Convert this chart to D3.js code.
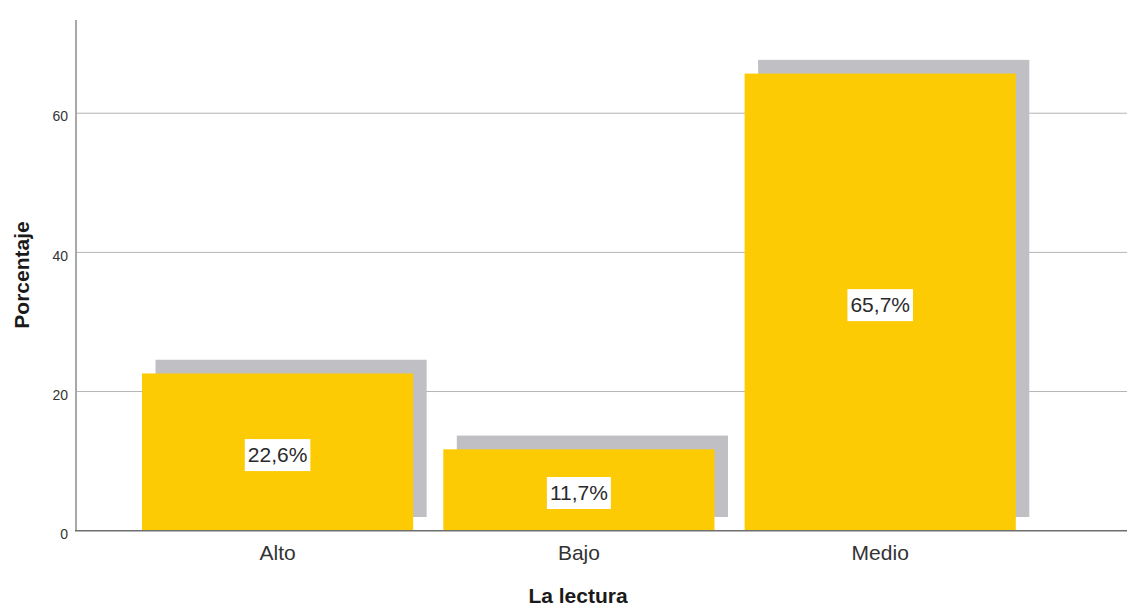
<!DOCTYPE html>
<html>
<head>
<meta charset="utf-8">
<script src="https://cdn.jsdelivr.net/npm/d3@7"></script>
<style>
  html, body { margin: 0; padding: 0; background: #fff; }
  svg { display: block; font-family: "Liberation Sans", Arial, sans-serif; }
</style>
</head>
<body>
<svg id="chart" width="1127" height="606"></svg>
<script>
const categories = ["Alto", "Bajo", "Medio"];
const values = [22.6, 11.7, 65.7];
const valueLabels = ["22,6%", "11,7%", "65,7%"];
const yTicks = [0, 20, 40, 60];
const xTitle = "La lectura";
const yTitle = "Porcentaje";

const svg = d3.select("#chart");
const W = 1127;

const y = d3.scaleLinear().domain([0, 73.4]).range([530.7, 20]);
const x = d3.scaleBand().domain(categories).range([142, 1015.8]).paddingInner(0.1).paddingOuter(0);

const axisX0 = 76;
const shadowDx = 13.5, shadowDy = 13.7;

// gridlines
svg.append("g").selectAll("line").data(yTicks.filter(d => d > 0)).join("line")
  .attr("x1", axisX0).attr("x2", W)
  .attr("y1", d => y(d)).attr("y2", d => y(d))
  .attr("stroke", "#b4b4b4").attr("stroke-width", 1);

const data = categories.map((c, i) => ({c, v: values[i], l: valueLabels[i]}));

// shadows
svg.append("g").selectAll("rect").data(data).join("rect")
  .attr("x", d => x(d.c) + shadowDx)
  .attr("y", d => y(d.v) - shadowDy)
  .attr("width", x.bandwidth())
  .attr("height", d => y(0) - y(d.v))
  .attr("fill", "#c0bfc3");

// bars
svg.append("g").selectAll("rect").data(data).join("rect")
  .attr("x", d => x(d.c))
  .attr("y", d => y(d.v))
  .attr("width", x.bandwidth())
  .attr("height", d => y(0) - y(d.v))
  .attr("fill", "#fccb03");

// value labels
const lg = svg.append("g").selectAll("g").data(data).join("g")
  .attr("transform", d => `translate(${x(d.c) + x.bandwidth() / 2},${(y(d.v) + y(0)) / 2 + 3})`);
lg.append("rect").attr("fill", "#fff");
lg.append("text")
  .attr("text-anchor", "middle").attr("dy", "0.35em")
  .attr("font-size", 21).attr("fill", "#2a2a2a")
  .text(d => d.l);
lg.each(function() {
  const g = d3.select(this);
  const bb = g.select("text").node().getBBox();
  g.select("rect").attr("x", bb.x - 3).attr("y", -16).attr("width", bb.width + 6).attr("height", 32);
});

// y axis
const yAxis = d3.axisLeft(y).tickValues(yTicks).tickSize(0).tickPadding(8).tickFormat(d3.format("d"));
const ya = svg.append("g").attr("transform", `translate(${axisX0},0)`).call(yAxis);
ya.select(".domain").remove();
ya.selectAll("text").attr("font-size", 14).attr("fill", "#333").attr("dy", "0.55em")
  .attr("font-family", "'Liberation Sans', Arial, sans-serif");
svg.append("line").attr("x1", axisX0).attr("x2", axisX0).attr("y1", 20).attr("y2", y(0))
  .attr("stroke", "#a8a8a8").attr("stroke-width", 2);

// x axis
const xAxis = d3.axisBottom(x).tickSize(0).tickPadding(14);
const xa = svg.append("g").attr("transform", `translate(0,${y(0)})`).call(xAxis);
xa.select(".domain").remove();
xa.selectAll("text").attr("font-size", 21).attr("fill", "#333").attr("dy", "0.71em")
  .attr("font-family", "'Liberation Sans', Arial, sans-serif");
svg.append("line").attr("x1", axisX0 - 1).attr("x2", W).attr("y1", y(0)).attr("y2", y(0))
  .attr("stroke", "#6f6f6f").attr("stroke-width", 1.5);

// titles
svg.append("text").attr("x", 578).attr("y", 603).attr("text-anchor", "middle")
  .attr("font-size", 21).attr("font-weight", "bold").attr("fill", "#1a1a1a").text(xTitle);
svg.append("text").attr("transform", "translate(29,275) rotate(-90)").attr("text-anchor", "middle")
  .attr("font-size", 21).attr("font-weight", "bold").attr("fill", "#1a1a1a").text(yTitle);
</script>
</body>
</html>
